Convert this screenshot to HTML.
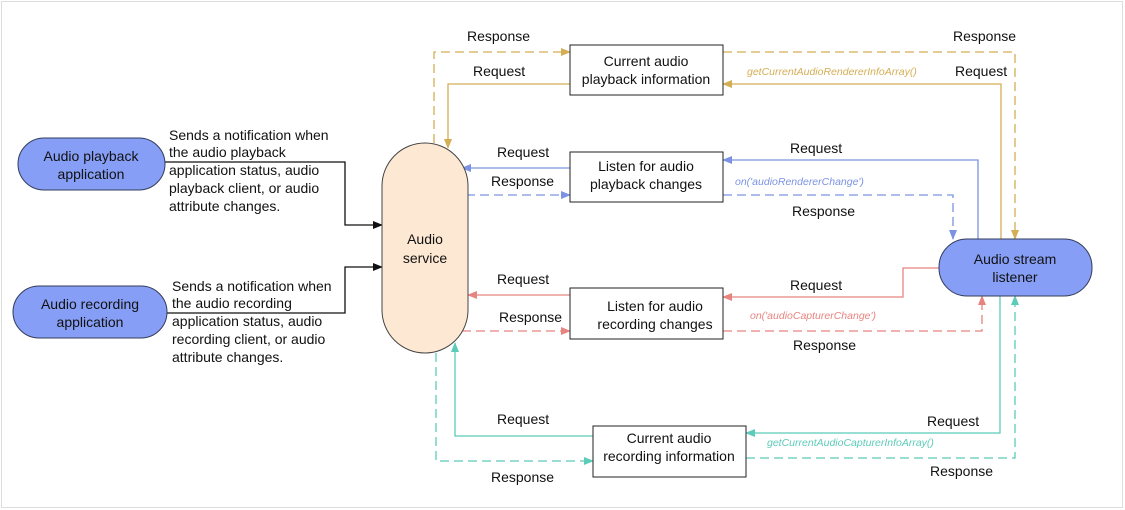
<!DOCTYPE html>
<html><head><meta charset="utf-8"><style>
html,body{margin:0;padding:0;background:#fff;}
svg{display:block;font-family:"Liberation Sans",Arial,sans-serif;}
</style></head><body>
<svg width="1125" height="510" viewBox="0 0 1125 510" xmlns="http://www.w3.org/2000/svg">
<defs>
<marker id="ak" markerWidth="10" markerHeight="10" refX="9" refY="5" orient="auto" markerUnits="userSpaceOnUse"><path d="M0,1 L10,5 L0,9z" fill="#111"/></marker>
<marker id="ag" markerWidth="10" markerHeight="10" refX="9" refY="5" orient="auto" markerUnits="userSpaceOnUse"><path d="M0,1 L10,5 L0,9z" fill="#d4ae55"/></marker>
<marker id="ab" markerWidth="10" markerHeight="10" refX="9" refY="5" orient="auto" markerUnits="userSpaceOnUse"><path d="M0,1 L10,5 L0,9z" fill="#7b93e2"/></marker>
<marker id="ar" markerWidth="10" markerHeight="10" refX="9" refY="5" orient="auto" markerUnits="userSpaceOnUse"><path d="M0,1 L10,5 L0,9z" fill="#e8847f"/></marker>
<marker id="at" markerWidth="10" markerHeight="10" refX="9" refY="5" orient="auto" markerUnits="userSpaceOnUse"><path d="M0,1 L10,5 L0,9z" fill="#5ccbb8"/></marker>
</defs>
<rect x="1.5" y="1.5" width="1121" height="506" fill="#fff" stroke="#ddd"/>
<g fill="none" stroke-width="1.3">
<!-- gold -->
<path d="M434,143 V52 H570" stroke="#d4ae55" stroke-dasharray="9,5" marker-end="url(#ag)"/>
<path d="M723,52 H1015 V239" stroke="#d4ae55" stroke-dasharray="9,5" marker-end="url(#ag)"/>
<path d="M1001,239 V84 H723" stroke="#d4ae55" marker-end="url(#ag)"/>
<path d="M570,84 H448 V148" stroke="#d4ae55" marker-end="url(#ag)"/>
<!-- blue -->
<path d="M978,239 V160 H723" stroke="#7b93e2" marker-end="url(#ab)"/>
<path d="M570,168 H462" stroke="#7b93e2" marker-end="url(#ab)"/>
<path d="M466,195 H570" stroke="#7b93e2" stroke-dasharray="9,5" marker-end="url(#ab)"/>
<path d="M723,195 H953 V239" stroke="#7b93e2" stroke-dasharray="9,5" marker-end="url(#ab)"/>
<!-- red -->
<path d="M939,268 H903 V297 H723" stroke="#e8847f" marker-end="url(#ar)"/>
<path d="M570,295 H468" stroke="#e8847f" marker-end="url(#ar)"/>
<path d="M462,331 H570" stroke="#e8847f" stroke-dasharray="9,5" marker-end="url(#ar)"/>
<path d="M723,331 H982 V296" stroke="#e8847f" stroke-dasharray="9,5" marker-end="url(#ar)"/>
<!-- teal -->
<path d="M1000,296 V433 H746" stroke="#5ccbb8" marker-end="url(#at)"/>
<path d="M593,436 H455 V343" stroke="#5ccbb8" marker-end="url(#at)"/>
<path d="M436,353 V461 H593" stroke="#5ccbb8" stroke-dasharray="9,5" marker-end="url(#at)"/>
<path d="M746,458 H1015 V296" stroke="#5ccbb8" stroke-dasharray="9,5" marker-end="url(#at)"/>
<!-- black -->
<path d="M165,162 H345 V225 H382" stroke="#111" marker-end="url(#ak)"/>
<path d="M167,313 H345 V267 H382" stroke="#111" marker-end="url(#ak)"/>
</g>
<!-- nodes -->
<rect x="18" y="138" width="147" height="52" rx="26" fill="#869ef5" stroke="#333c5a"/>
<rect x="13" y="286" width="154" height="52" rx="26" fill="#869ef5" stroke="#333c5a"/>
<rect x="939" y="239" width="153" height="57" rx="28" fill="#869ef5" stroke="#333c5a"/>
<rect x="382" y="143" width="86" height="210" rx="43" fill="#fde9d3" stroke="#444"/>
<g fill="#fff" stroke="#222">
<rect x="570" y="45" width="153" height="50"/>
<rect x="570" y="152" width="153" height="50"/>
<rect x="570" y="288" width="153" height="51"/>
<rect x="593" y="426" width="153" height="51"/>
</g>
<g font-size="14" fill="#111" text-anchor="middle">
<text x="91" y="161">Audio playback</text><text x="91" y="179">application</text>
<text x="90" y="309">Audio recording</text><text x="90" y="327">application</text>
<text x="1015" y="264">Audio stream</text><text x="1015" y="282">listener</text>
<text x="425" y="244">Audio</text><text x="425" y="263">service</text>
<text x="646" y="66">Current audio</text><text x="646" y="84">playback information</text>
<text x="646" y="171">Listen for audio</text><text x="646" y="189">playback changes</text>
<text x="655" y="311">Listen for audio</text><text x="655" y="329">recording changes</text>
<text x="669" y="443">Current audio</text><text x="669" y="461">recording information</text>
</g>
<g font-size="14" fill="#111">
<text x="169" y="140">Sends a notification when</text>
<text x="169" y="157">the audio playback</text>
<text x="169" y="175">application status, audio</text>
<text x="169" y="193">playback client, or audio</text>
<text x="169" y="211">attribute changes.</text>
<text x="172" y="291">Sends a notification when</text>
<text x="172" y="308">the audio recording</text>
<text x="172" y="326">application status, audio</text>
<text x="172" y="344">recording client, or audio</text>
<text x="172" y="362">attribute changes.</text>
<text x="467" y="41">Response</text>
<text x="473" y="76">Request</text>
<text x="953" y="41">Response</text>
<text x="955" y="76">Request</text>
<text x="497" y="157">Request</text>
<text x="491" y="186">Response</text>
<text x="790" y="153">Request</text>
<text x="792" y="216">Response</text>
<text x="497" y="284">Request</text>
<text x="499" y="322">Response</text>
<text x="790" y="290">Request</text>
<text x="793" y="350">Response</text>
<text x="497" y="424">Request</text>
<text x="491" y="482">Response</text>
<text x="927" y="426">Request</text>
<text x="930" y="476">Response</text>
</g>
<g font-size="10.5" font-style="italic">
<text x="747" y="75" fill="#d4ae55">getCurrentAudioRendererInfoArray()</text>
<text x="735" y="185" fill="#7b93e2">on('audioRendererChange')</text>
<text x="750" y="319" fill="#e8847f">on('audioCapturerChange')</text>
<text x="767" y="446" fill="#5ccbb8">getCurrentAudioCapturerInfoArray()</text>
</g>
</svg>
</body></html>
